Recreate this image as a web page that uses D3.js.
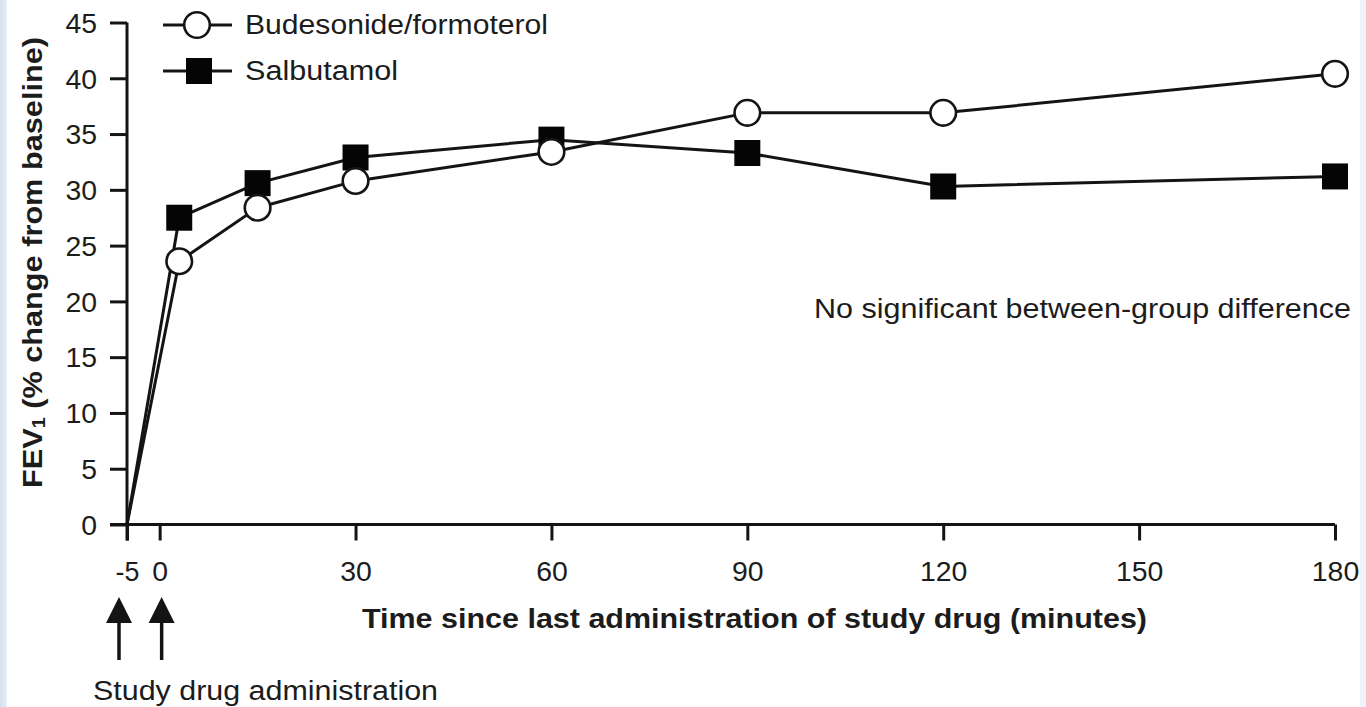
<!DOCTYPE html>
<html>
<head>
<meta charset="utf-8">
<script src="https://cdn.jsdelivr.net/npm/d3@7/dist/d3.min.js"></script>
<style>
  html, body { margin: 0; padding: 0; background: #ffffff; overflow: hidden; }
  svg { display: block; }
  text { font-family: "Liberation Sans", Arial, Helvetica, sans-serif; fill: #1c1c1c; }
</style>
</head>
<body>
<svg id="chart" width="1366" height="707"></svg>
<script>
// FEV1 response over time, % change from baseline
const minutes = [-5, 3, 15, 30, 60, 90, 120, 180];
const budesonideFormoterol = [0, 23.6, 28.4, 30.8, 33.4, 36.9, 36.9, 40.4];
const salbutamol = [0, 27.5, 30.6, 32.9, 34.5, 33.3, 30.3, 31.2];
const seriesNames = ["Budesonide/formoterol", "Salbutamol"];

const xTickValues = [-5, 0, 30, 60, 90, 120, 150, 180];
const yTickValues = [0, 5, 10, 15, 20, 25, 30, 35, 40, 45];
const administrationTimes = [-5, 0];

const xTitle = "Time since last administration of study drug (minutes)";
const yTitleMain = "FEV";
const yTitleSub = "1";
const yTitleRest = " (% change from baseline)";
const noteText = "No significant between-group difference";
const arrowCaption = "Study drug administration";

const svg = d3.select("#chart");
const W = 1366, H = 707;
const ink = "#141414";

// page edges
svg.append("rect").attr("x", 0).attr("y", 0).attr("width", W).attr("height", H).attr("fill", "#ffffff");
const edge = svg.append("defs").append("linearGradient").attr("id", "edgeFade")
  .attr("x1", 0).attr("x2", 1).attr("y1", 0).attr("y2", 0);
edge.append("stop").attr("offset", "0%").attr("stop-color", "#d3dfeb");
edge.append("stop").attr("offset", "100%").attr("stop-color", "#e9eff5");
svg.append("rect").attr("x", 0).attr("y", 0).attr("width", 7).attr("height", H).attr("fill", "url(#edgeFade)");
svg.append("rect").attr("x", 1360).attr("y", 0).attr("width", 6).attr("height", H).attr("fill", "#eff2f6");

const x = d3.scaleLinear().domain([-5, 180]).range([127, 1335]);
const y = d3.scaleLinear().domain([0, 45]).range([524.5, 22.5]);

// axes (plain hyphen for negative tick values)
const plain = d => String(d);
const labelWidth = d => String(d).replace("-", "").length * 15.8 + (d < 0 ? 8 : 0);
const yAxis = svg.append("g").attr("transform", `translate(${x(-5)},0)`)
  .call(d3.axisLeft(y).tickValues(yTickValues).tickFormat(plain)
    .tickSize(17).tickPadding(13).tickSizeOuter(0));
const xAxis = svg.append("g").attr("transform", `translate(0,${y(0)})`)
  .call(d3.axisBottom(x).tickValues(xTickValues).tickFormat(plain)
    .tickSize(16).tickPadding(21).tickSizeOuter(0));

[yAxis, xAxis].forEach(g => {
  g.select(".domain").attr("stroke", ink).attr("stroke-width", 3);
  g.selectAll(".tick line").attr("stroke", ink).attr("stroke-width", 3);
  g.selectAll(".tick text")
    .style("font-family", '"Liberation Sans", Arial, sans-serif')
    .attr("font-size", 27)
    .attr("fill", "#1c1c1c")
    .attr("lengthAdjust", "spacingAndGlyphs")
    .attr("textLength", labelWidth);
});
yAxis.selectAll(".tick text").attr("dy", "0.36em");
// the x-axis line carries on to the left to meet the zero tick
xAxis.select(".domain").attr("d", `M${x(-5) - 17},0H${x(180)}`);
yAxis.select(".domain").attr("d", `M0,${y(45)}V${y(0) + 16}`);

// series
const points = (vals) => minutes.map((m, i) => ({ m, v: vals[i] }));
const line = d3.line().x(d => x(d.m)).y(d => y(d.v));
const budPts = points(budesonideFormoterol);
const salPts = points(salbutamol);

svg.append("path").datum(salPts).attr("d", line)
  .attr("fill", "none").attr("stroke", ink).attr("stroke-width", 3).attr("stroke-linejoin", "round");
svg.append("path").datum(budPts).attr("d", line)
  .attr("fill", "none").attr("stroke", ink).attr("stroke-width", 3).attr("stroke-linejoin", "round");

const sq = 26, rad = 12.8;
svg.append("g").selectAll("rect").data(salPts.filter(d => d.m >= 0)).join("rect")
  .attr("x", d => x(d.m) - sq / 2).attr("y", d => y(d.v) - sq / 2)
  .attr("width", sq).attr("height", sq).attr("fill", "#050505");
svg.append("g").selectAll("circle").data(budPts.filter(d => d.m >= 0)).join("circle")
  .attr("cx", d => x(d.m)).attr("cy", d => y(d.v)).attr("r", rad)
  .attr("fill", "#ffffff").attr("stroke", ink).attr("stroke-width", 2.6);

// legend
const legend = svg.append("g");
const legendRows = [
  { name: seriesNames[0], cy: 25, len: 303, kind: "circle" },
  { name: seriesNames[1], cy: 71, len: 153, kind: "square" }
];
legendRows.forEach(r => {
  legend.append("line").attr("x1", 163).attr("x2", 232).attr("y1", r.cy).attr("y2", r.cy)
    .attr("stroke", ink).attr("stroke-width", 3);
  if (r.kind === "circle") {
    legend.append("circle").attr("cx", 197).attr("cy", r.cy).attr("r", rad)
      .attr("fill", "#fff").attr("stroke", ink).attr("stroke-width", 2.6);
  } else {
    legend.append("rect").attr("x", 199 - sq / 2).attr("y", r.cy - sq / 2)
      .attr("width", sq).attr("height", sq).attr("fill", "#050505");
  }
  legend.append("text").attr("x", 245).attr("y", r.cy).attr("dy", "0.35em")
    .attr("font-size", 27).attr("textLength", r.len).attr("lengthAdjust", "spacingAndGlyphs")
    .text(r.name);
});

// annotation
svg.append("text").attr("x", 814).attr("y", 318)
  .attr("font-size", 27).attr("textLength", 537).attr("lengthAdjust", "spacingAndGlyphs")
  .text(noteText);

// axis titles
svg.append("text").attr("x", 362).attr("y", 628)
  .attr("font-size", 27).attr("font-weight", "bold")
  .attr("textLength", 785).attr("lengthAdjust", "spacingAndGlyphs")
  .text(xTitle);

const yt = svg.append("text")
  .attr("transform", "translate(42,488) rotate(-90)")
  .attr("font-size", 28).attr("font-weight", "bold")
  .attr("textLength", 451).attr("lengthAdjust", "spacingAndGlyphs");
yt.append("tspan").text(yTitleMain);
yt.append("tspan").attr("font-size", 18).attr("dy", 3).text(yTitleSub);
yt.append("tspan").attr("dy", -3).text(yTitleRest);

// administration arrows
const arrowOffsets = [-8, 2];
const arrows = svg.append("g");
administrationTimes.forEach((t, i) => {
  const ax = x(t) + arrowOffsets[i];
  arrows.append("path")
    .attr("d", `M${ax},597L${ax + 13},623L${ax - 13},623Z`).attr("fill", ink);
  arrows.append("line").attr("x1", ax).attr("x2", ax).attr("y1", 618).attr("y2", 660)
    .attr("stroke", ink).attr("stroke-width", 3.5);
});
svg.append("text").attr("x", 93).attr("y", 700)
  .attr("font-size", 27).attr("textLength", 345).attr("lengthAdjust", "spacingAndGlyphs")
  .text(arrowCaption);
</script>
</body>
</html>
